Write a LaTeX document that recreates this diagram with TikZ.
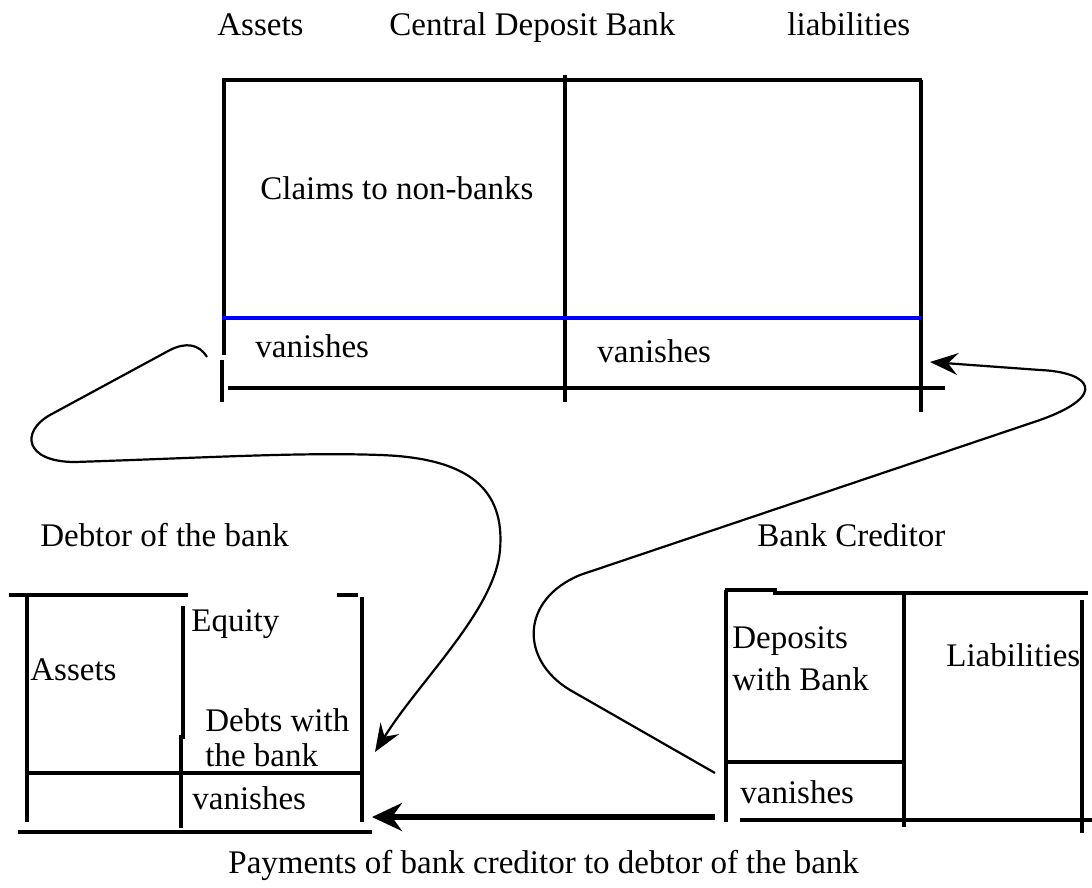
\documentclass[tikz,border=0pt]{standalone}
\usepackage{fontspec}
\setmainfont{Liberation Serif}
\newfontfamily\lblfont{Liberation Serif}
\usetikzlibrary{arrows.meta}

\begin{document}
\begin{tikzpicture}[
        x=0.5pt, y=-0.5pt,
        lbl/.style={inner sep=0pt, anchor=base west, font=\lblfont\fontsize{16.5}{20}\selectfont},
        ruling/.style={line width=1.6pt},
        flow/.style={-{Stealth[length=14pt, width=11pt, inset=5pt]}, line width=1.1pt},
        pay/.style={-{Stealth[length=15pt, width=14pt, inset=5pt]}, line width=2.8pt}
    ]
    \useasboundingbox (0,0) rectangle (1092,888);

    % headings of the central deposit bank
    \node (hdAssets) [lbl] at (217,36) {Assets};
    \node (hdBank)   [lbl] at (389,36) {Central Deposit Bank};
    \node (hdLiab)   [lbl] at (787,36) {liabilities};

    % central deposit bank balance sheet
    \draw [ruling] (222,80) -- (922,80);
    \draw [ruling] (224,80) -- (224,355);
    \draw [ruling] (222,360) -- (222,402);
    \draw [ruling] (565,75) -- (565,402);
    \draw [ruling] (921,80) -- (921,412);
    \draw [ruling] (228,388) -- (945,388);
    \draw [ruling, blue] (222,318) -- (922,318);
    \node (claims)   [lbl] at (260,199) {Claims to non-banks};
    \node (vanA)     [lbl] at (255,357) {vanishes};
    \node (vanL)     [lbl] at (597,362) {vanishes};

    % debtor of the bank
    \node (debtor)   [lbl] at (40,546) {Debtor of the bank};
    \draw [ruling] (9,595) -- (188,595);
    \draw [ruling] (337,595) -- (358,595);
    \draw [ruling] (27,597) -- (27,822);
    \draw [ruling] (362,597) -- (362,822);
    \draw [ruling] (183,606) -- (183,737) -- (181,737) -- (181,828);
    \draw [ruling] (27,773) -- (362,773);
    \draw [ruling] (18,832) -- (372,832);
    \node (dAssets)  [lbl] at (30,680) {Assets};
    \node (dEquity)  [lbl] at (191,631) {Equity};
    \node (dDebtsA)  [lbl] at (205,731) {Debts with};
    \node (dDebtsB)  [lbl] at (205,766) {the bank};
    \node (dVan)     [lbl] at (192,809) {vanishes};

    % bank creditor
    \node (creditor) [lbl] at (757,546) {Bank Creditor};
    \draw [ruling] (725,590) -- (775,590) -- (775,593) -- (1088,593);
    \draw [ruling] (726,590) -- (726,822);
    \draw [ruling] (904,593) -- (904,827);
    \draw [ruling] (1082,600) -- (1082,833);
    \draw [ruling] (726,762) -- (904,762);
    \draw [ruling] (740,820) -- (1092,820);
    \node (cDepA)    [lbl] at (732,648) {Deposits};
    \node (cDepB)    [lbl] at (732,690) {with Bank};
    \node (cLiab)    [lbl] at (946,666) {Liabilities};
    \node (cVan)     [lbl] at (740,803) {vanishes};

    \node (payments) [lbl] at (228,873) {Payments of bank creditor to debtor of the bank};

    % connector ends
    \coordinate (cdbAsset) at (207,357);
    \coordinate (debtIn)   at (375,752);
    \coordinate (credOut)  at (715,773);
    \coordinate (cdbLiab)  at (930,362);
    \coordinate (payStart) at (715,817);
    \coordinate (payEnd)   at (372,817);

    \draw [flow] (cdbAsset) .. controls (199,344) and (186,342) .. (170,350)
        -- (50,415) .. controls (20,432) and (25,462) .. (75,462)
        .. controls (200,458) and (300,452) .. (380,455)
        .. controls (470,458) and (505,490) .. (500,550)
        .. controls (495,610) and (420,680) .. (debtIn);
    \draw [flow] (credOut) -- (570,690) .. controls (520,660) and (520,600) .. (580,575)
        -- (1040,420) .. controls (1110,395) and (1090,372) .. (1040,370)
        -- (cdbLiab);
    \draw [pay] (payStart) -- (payEnd);
\end{tikzpicture}
\end{document}
